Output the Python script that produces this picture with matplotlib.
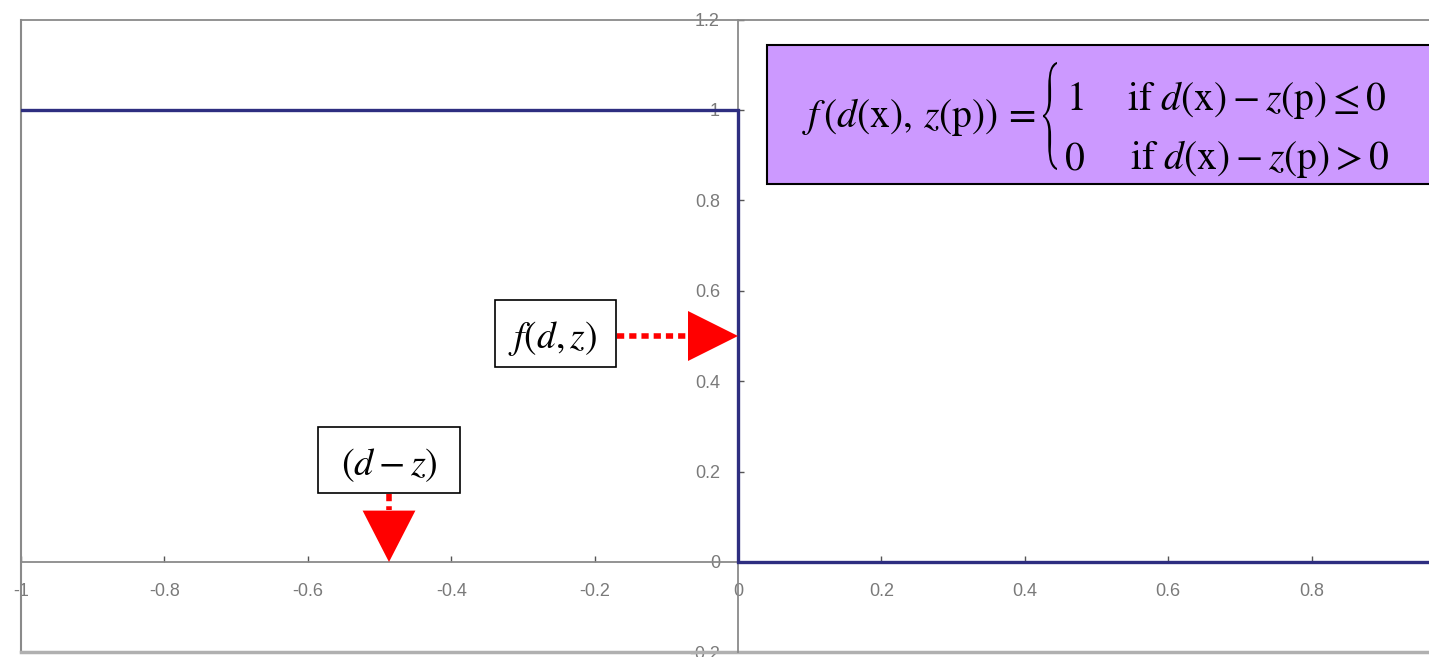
import matplotlib.pyplot as plt
import matplotlib.transforms as mtransforms
from matplotlib.patches import Rectangle, PathPatch
from matplotlib.textpath import TextPath
from matplotlib.font_manager import FontProperties

# step function f(d - z): 1 for d - z <= 0, 0 otherwise
step_x = [-1.0, 0.0, 0.0, 1.0]
step_y = [1.0, 1.0, 0.0, 0.0]

x_ticks = [-1, -0.8, -0.6, -0.4, -0.2, 0, 0.2, 0.4, 0.6, 0.8]
x_labels = ['-1', '-0.8', '-0.6', '-0.4', '-0.2', '0', '0.2', '0.4', '0.6', '0.8']
y_ticks = [-0.2, 0, 0.2, 0.4, 0.6, 0.8, 1, 1.2]
y_labels = ['-0.2', '0', '0.2', '0.4', '0.6', '0.8', '1', '1.2']

plt.rcParams['mathtext.fontset'] = 'stix'

W, H = 1429, 657
fig = plt.figure(figsize=(W / 100, H / 100), dpi=100)
ax = fig.add_axes([21 / W, 1 - 652.4 / H, 1434 / W, 632.8 / H])
ax.set_xlim(-1, 1)
ax.set_ylim(-0.2, 1.2)


def px(x, y):
    # picture pixel -> data coords (layout helper for the annotations)
    return (x - 738) / 717, (562 - y) / 452


gray = '#8a8a8a'
# axes crossing at the origin
ax.spines['left'].set_position(('data', 0))
ax.spines['bottom'].set_position(('data', 0))
ax.spines['right'].set_visible(False)
for s in ['left', 'bottom', 'top']:
    ax.spines[s].set_color(gray)
    ax.spines[s].set_linewidth(1.3)
# outer frame
ax.axvline(-1, color=gray, lw=1.5, clip_on=False)
ax.axhline(-0.2, color='#b0b0b0', lw=2.5, clip_on=False)

ax.set_xticks(x_ticks, x_labels)
ax.set_yticks(y_ticks, y_labels)
ax.tick_params(axis='both', direction='in', length=4, width=1, color='#555555',
               labelcolor='#7a7a7a', labelsize=13)
ax.tick_params(axis='x', pad=15)
ax.tick_params(axis='y', pad=13)
for lab in ax.get_xticklabels() + ax.get_yticklabels():
    lab.set_family('Liberation Sans')
    lab.set_clip_on(False)

ax.plot(step_x, step_y, color='#2e2e80', lw=2.4, solid_joinstyle='miter', zorder=3)

# formula box
x0, y0 = px(767, 184)
ax.add_patch(Rectangle((x0, y0), 1.2, 139 / 452, facecolor='#cc99ff',
                       edgecolor='black', lw=1.5, zorder=4, clip_on=False))
fs = 28.5
ax.text(*px(1036, 127), r'$f\,(d(\mathrm{x}),\, z(\mathrm{p}))\,=$',
        fontsize=fs, ha='right', va='baseline', zorder=5)
ax.text(*px(1066, 110), r'$1$', fontsize=fs, ha='left', va='baseline', zorder=5)
ax.text(*px(1064, 169), r'$0$', fontsize=fs, ha='left', va='baseline', zorder=5)
ax.text(*px(1127, 110),
        r'$\mathrm{if}\ d(\mathrm{x}) - z(\mathrm{p}) \leq 0$',
        fontsize=fs, ha='left', va='baseline', zorder=5)
ax.text(*px(1130, 169),
        r'$\mathrm{if}\ d(\mathrm{x}) - z(\mathrm{p}) > 0$',
        fontsize=fs, ha='left', va='baseline', zorder=5)
# big left brace of the cases
tp = TextPath((0, 0), '{', size=100, prop=FontProperties(family='STIXSizeThreeSym'))
ext = tp.get_extents()
brace_tr = (mtransforms.Affine2D().translate(-ext.x0, -ext.y0)
            .scale(14 / ext.width, 108 / ext.height).translate(1043, H - 170))
fig.add_artist(PathPatch(tp, transform=brace_tr, facecolor='black', lw=0, zorder=6))

# label f(d,z) with arrow to the jump
bx0, by0 = px(495, 367)
ax.add_patch(Rectangle((bx0, by0), 121 / 717, 67 / 452, facecolor='white',
                       edgecolor='black', lw=1.2, zorder=4))
ax.text(*px(553, 338), r'$f(d,z)$', fontsize=27, ha='center', va='center', zorder=5)
ax.plot([px(617, 0)[0], px(688, 0)[0]], [0.5, 0.5], color='red', lw=4,
        ls=(0, (1.3, 0.9)), dash_capstyle='butt', zorder=4)
ax.annotate('', xy=(0, 0.5), xytext=(px(688, 0)[0], 0.5),
            arrowprops=dict(arrowstyle='-|>,head_length=36,head_width=18',
                            mutation_scale=1, color='red', lw=0,
                            shrinkA=0, shrinkB=0), zorder=5)

# label (d - z) with arrow to the x axis
bx0, by0 = px(318, 493)
ax.add_patch(Rectangle((bx0, by0), 142 / 717, 66 / 452, facecolor='white',
                       edgecolor='black', lw=1.2, zorder=4))
ax.text(*px(389, 465), r'$(d - z)$', fontsize=27.5, ha='center', va='center', zorder=5)
ax.plot([px(389, 0)[0]] * 2, [px(0, 494)[1], px(0, 510)[1]], color='red', lw=4,
        ls=(0, (1.3, 0.9)), dash_capstyle='butt', zorder=4)
ax.annotate('', xy=(px(389, 0)[0], 0), xytext=(px(389, 510)),
            arrowprops=dict(arrowstyle='-|>,head_length=37,head_width=19',
                            mutation_scale=1, color='red', lw=0,
                            shrinkA=0, shrinkB=0), zorder=5)

fig.savefig('out.png', dpi=100)
